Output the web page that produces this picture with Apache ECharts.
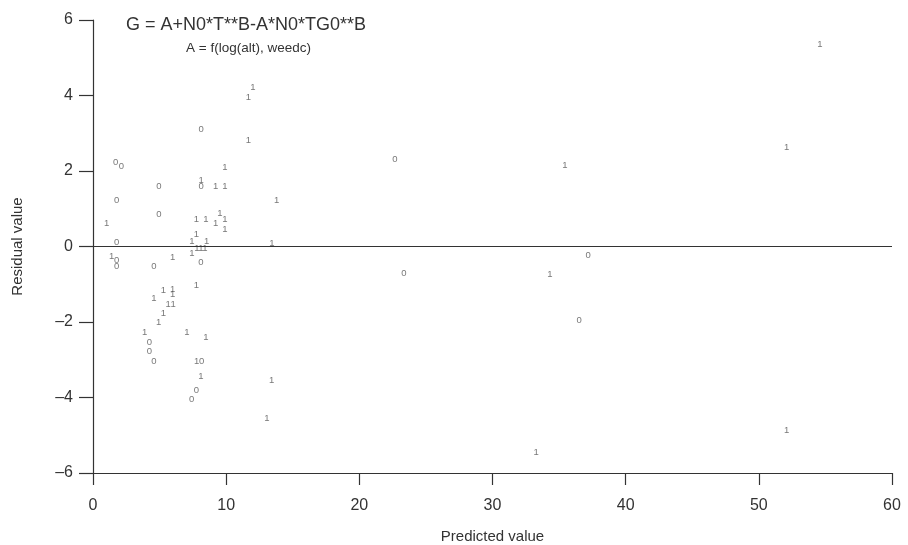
<!DOCTYPE html>
<html>
<head>
<meta charset="utf-8">
<script src="https://cdn.jsdelivr.net/npm/echarts@6/dist/echarts.min.js"></script>
<style>html,body{margin:0;padding:0;background:#fff}#c{width:908px;height:545px}</style>
</head>
<body>
<div id="c"></div>
<script>
const group0X = [8.13, 1.70, 2.13, 4.95, 8.13, 1.78, 4.95, 1.78, 1.78, 1.78, 4.58, 8.11, 4.23, 4.23, 4.58, 8.16, 7.76, 7.41, 22.67, 37.19, 23.35, 36.51];
const group0Y = [3.09, 2.22, 2.11, 1.58, 1.60, 1.23, 0.86, 0.10, -0.38, -0.52, -0.53, -0.43, -2.53, -2.79, -3.03, -3.03, -3.80, -4.05, 2.31, -0.23, -0.71, -1.97];
const group1X = [11.67, 12.0, 11.66, 9.91, 8.13, 9.21, 9.91, 13.79, 1.03, 7.76, 8.48, 9.53, 9.91, 9.21, 9.91, 7.76, 7.43, 8.53, 13.44, 7.8, 8.1, 8.4, 7.43, 1.40, 5.98, 7.76, 5.28, 5.98, 5.98, 4.58, 5.65, 6.02, 5.28, 4.93, 3.88, 7.06, 8.48, 7.78, 8.11, 13.41, 13.06, 35.44, 34.31, 54.58, 52.08, 52.08, 33.27];
const group1Y = [3.94, 4.22, 2.82, 2.09, 1.74, 1.60, 1.60, 1.21, 0.61, 0.72, 0.72, 0.88, 0.72, 0.60, 0.46, 0.33, 0.13, 0.13, 0.07, -0.05, -0.05, -0.05, -0.18, -0.27, -0.29, -1.04, -1.15, -1.13, -1.28, -1.37, -1.53, -1.53, -1.77, -2.02, -2.27, -2.27, -2.42, -3.03, -3.43, -3.55, -4.55, 2.16, -0.73, 5.36, 2.63, -4.88, -5.46];
const xTicks = [0, 10, 20, 30, 40, 50, 60];
const yTicks = [-6, -4, -2, 0, 2, 4, 6];
const titleText = 'G = A+N0*T**B-A*N0*TG0**B';
const subText = 'A = f(log(alt), weedc)';
const xName = 'Predicted value';
const yName = 'Residual value';

const FONT = 'Liberation Sans';
const AX = '#333';
const chart = echarts.init(document.getElementById('c'));
function pts(xs, ys) { return xs.map((x, i) => [x, ys[i]]); }
function labelSeries(name, xs, ys, extra) {
  return Object.assign({
    name: name,
    type: 'scatter',
    data: pts(xs, ys),
    symbolSize: 1,
    itemStyle: { color: 'rgba(0,0,0,0)' },
    label: { show: true, position: 'inside', formatter: name, fontFamily: FONT, fontSize: 9.5, color: '#555' },
    emphasis: { disabled: true },
    silent: true
  }, extra || {});
}
chart.setOption({
  animation: false,
  backgroundColor: '#fff',
  title: [
    { text: titleText, left: 121, top: 11, textStyle: { fontFamily: FONT, fontSize: 18, fontWeight: 'normal', color: '#333' } },
    { text: subText, left: 181, top: 36, textStyle: { fontFamily: FONT, fontSize: 13.5, fontWeight: 'normal', color: '#333' } }
  ],
  grid: { left: 93, right: 16, top: 20, bottom: 72, outerBoundsMode: 'none', containLabel: false },
  xAxis: {
    type: 'value', min: xTicks[0], max: xTicks[xTicks.length - 1], interval: 10,
    name: xName, nameLocation: 'middle', nameGap: 56,
    nameTextStyle: { fontFamily: FONT, fontSize: 15, color: '#333' },
    axisLine: { show: true, onZero: false, lineStyle: { color: AX, width: 1.2 } },
    axisTick: { show: true, length: 12, lineStyle: { color: AX, width: 1.2 } },
    axisLabel: { fontFamily: FONT, fontSize: 16, color: '#333', margin: 25 },
    splitLine: { show: false }
  },
  yAxis: {
    type: 'value', min: yTicks[0], max: yTicks[yTicks.length - 1], interval: 2,
    name: yName, nameLocation: 'middle', nameGap: 68, nameRotate: 90,
    nameTextStyle: { fontFamily: FONT, fontSize: 15, color: '#333' },
    axisLine: { show: true, onZero: false, lineStyle: { color: AX, width: 1.2 } },
    axisTick: { show: true, length: 14, lineStyle: { color: AX, width: 1.2 } },
    axisLabel: { fontFamily: FONT, fontSize: 16, color: '#333', margin: 20, formatter: v => String(v).replace('-', '\u2013') },
    splitLine: { show: false }
  },
  series: [
    labelSeries('0', group0X, group0Y, {
      markLine: {
        silent: true, symbol: 'none', label: { show: false },
        lineStyle: { color: AX, width: 1.2, type: 'solid' },
        data: [{ yAxis: 0 }]
      }
    }),
    labelSeries('1', group1X, group1Y)
  ]
});
</script>
</body>
</html>
